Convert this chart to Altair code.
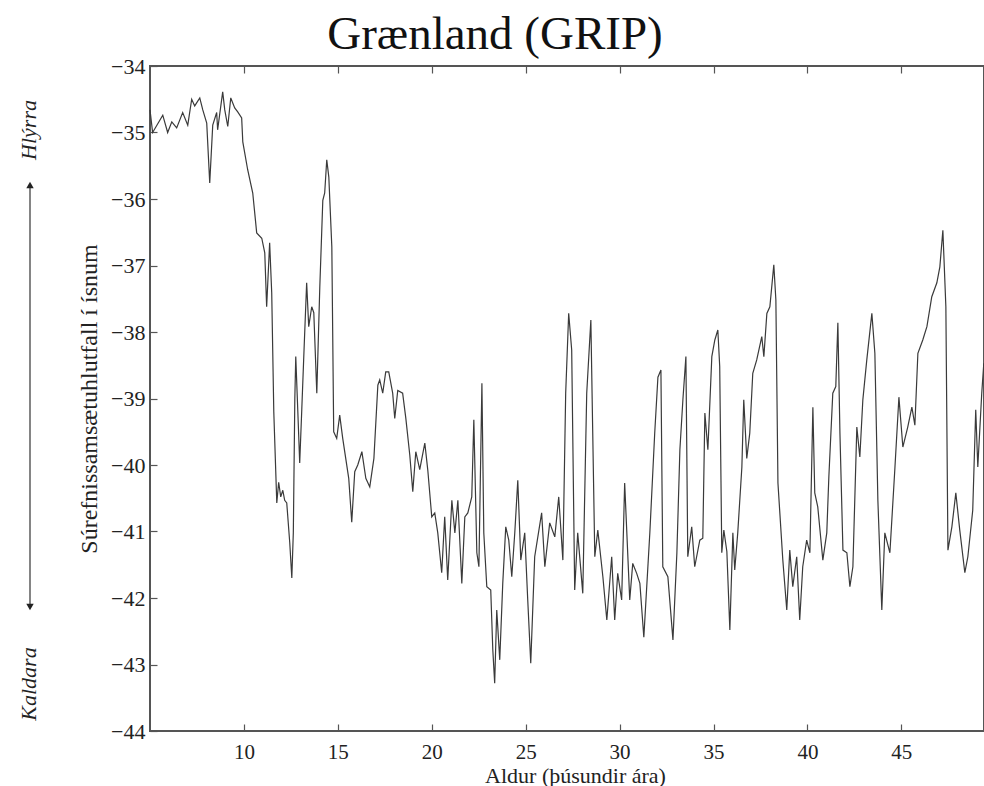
import altair as alt
import pandas as pd

# GRIP ice core oxygen-isotope record, age in thousands of years
age = [
    5.0, 5.14, 5.68, 5.94, 6.16, 6.42, 6.74, 7.01, 7.22, 7.38, 7.65, 7.81, 8.02, 8.18, 8.34,
    8.55, 8.60, 8.87, 8.98, 9.14, 9.30, 9.51, 9.67, 9.88, 9.94, 10.20, 10.47, 10.68, 10.95,
    11.11, 11.21, 11.37, 11.48, 11.59, 11.75, 11.85, 11.96, 12.07, 12.17, 12.28, 12.44, 12.55,
    12.63, 12.71, 12.76, 12.87, 12.97, 13.08, 13.18, 13.34, 13.45, 13.61, 13.72, 13.88, 14.04,
    14.20, 14.30, 14.41, 14.52, 14.68, 14.78, 14.94, 15.10, 15.26, 15.42, 15.58, 15.74, 15.90,
    16.06, 16.28, 16.49, 16.70, 16.92, 17.13, 17.23, 17.39, 17.55, 17.71, 17.92, 18.03, 18.19,
    18.45, 18.62, 18.83, 18.99, 19.15, 19.36, 19.63, 19.79, 20.00, 20.16, 20.32, 20.53, 20.69,
    20.85, 21.07, 21.23, 21.39, 21.60, 21.76, 21.92, 22.13, 22.24, 22.40, 22.51, 22.67, 22.77,
    22.93, 23.14, 23.25, 23.35, 23.46, 23.62, 23.78, 23.94, 24.10, 24.26, 24.42, 24.58, 24.74,
    24.95, 25.11, 25.27, 25.48, 25.85, 26.02, 26.28, 26.55, 26.76, 26.98, 27.13, 27.29, 27.45,
    27.61, 27.77, 28.04, 28.25, 28.47, 28.57, 28.68, 28.84, 29.11, 29.32, 29.58, 29.74, 29.90,
    30.11, 30.27, 30.54, 30.70, 30.91, 31.08, 31.29, 31.61, 31.87, 32.04, 32.20, 32.30, 32.57,
    32.84, 33.05, 33.21, 33.37, 33.53, 33.63, 33.84, 34.00, 34.27, 34.43, 34.54, 34.70, 34.91,
    35.07, 35.23, 35.33, 35.44, 35.55, 35.71, 35.87, 36.03, 36.13, 36.29, 36.51, 36.61, 36.77,
    36.93, 37.09, 37.30, 37.57, 37.68, 37.84, 38.00, 38.21, 38.32, 38.43, 38.69, 38.90, 39.06,
    39.22, 39.43, 39.59, 39.75, 39.96, 40.13, 40.29, 40.39, 40.55, 40.82, 41.03, 41.14, 41.35,
    41.51, 41.62, 41.73, 41.89, 42.10, 42.26, 42.42, 42.63, 42.79, 42.95, 43.16, 43.43, 43.59,
    43.75, 43.96, 44.12, 44.39, 44.66, 44.87, 45.08, 45.34, 45.56, 45.72, 45.88, 46.14, 46.36,
    46.62, 46.89, 47.05, 47.21, 47.37, 47.48, 47.69, 47.90, 48.11, 48.38, 48.54, 48.80, 48.96,
    49.07, 49.28, 49.39,
]

# delta-18O (per mil)
d18o = [
    -34.66, -35.00, -34.74, -35.00, -34.84, -34.93, -34.70, -34.89, -34.50, -34.60, -34.48, -34.66, -34.86, -35.76, -34.89,
    -34.70, -34.96, -34.39, -34.66, -34.91, -34.48, -34.63, -34.69, -34.78, -35.14, -35.56, -35.91, -36.51, -36.59,
    -36.81, -37.62, -36.66, -37.41, -39.20, -40.57, -40.26, -40.48, -40.38, -40.53, -40.57, -41.17, -41.70,
    -41.02, -39.00, -38.37, -39.20, -39.97, -39.17, -38.42, -37.26, -37.92, -37.62, -37.71, -38.92, -37.32,
    -36.02, -35.91, -35.41, -35.67, -36.72, -39.50, -39.60, -39.25, -39.60, -39.90, -40.20, -40.86, -40.10,
    -40.00, -39.80, -40.20, -40.33, -39.90, -38.80, -38.72, -38.92, -38.60, -38.60, -38.92, -39.30, -38.88,
    -38.92, -39.30, -39.85, -40.40, -39.80, -40.07, -39.67, -40.08, -40.78, -40.72, -41.02, -41.62, -40.78,
    -41.73, -40.53, -41.02, -40.53, -41.78, -40.78, -40.72, -40.48, -39.32, -41.32, -41.53, -38.77, -41.02,
    -41.83, -41.88, -42.78, -43.28, -42.18, -42.93, -41.78, -40.93, -41.13, -41.68, -41.02, -40.23, -41.43,
    -41.02, -42.03, -42.98, -41.38, -40.72, -41.53, -40.87, -41.08, -40.48, -41.43, -38.92, -37.72, -38.27,
    -41.88, -41.02, -41.93, -38.92, -37.82, -39.52, -41.38, -40.98, -41.68, -42.33, -41.38, -42.33, -41.63,
    -42.03, -40.27, -42.03, -41.48, -41.63, -41.78, -42.59, -41.02, -39.52, -38.68, -38.57, -41.53, -41.68,
    -42.63, -41.32, -39.77, -39.02, -38.37, -41.38, -40.93, -41.53, -41.13, -41.10, -39.22, -39.77, -38.37,
    -38.12, -37.97, -38.52, -41.32, -40.98, -41.30, -42.48, -41.02, -41.58, -41.02, -40.03, -39.02, -39.90,
    -39.52, -38.62, -38.42, -38.07, -38.37, -37.72, -37.62, -36.99, -37.52, -40.27, -41.43, -42.18, -41.28,
    -41.83, -41.38, -42.33, -41.53, -41.13, -41.32, -39.13, -40.42, -40.63, -41.43, -41.02, -40.18, -38.92,
    -38.82, -37.86, -39.52, -41.28, -41.32, -41.83, -41.53, -39.43, -39.88, -39.02, -38.42, -37.72, -38.32,
    -40.53, -42.18, -41.02, -41.32, -40.03, -38.98, -39.73, -39.43, -39.13, -39.40, -38.32, -38.12, -37.92,
    -37.47, -37.26, -37.02, -36.47, -37.62, -41.28, -40.93, -40.42, -40.98, -41.62, -41.38, -40.68, -39.17,
    -40.03, -38.92, -38.47,
]

x_ticks = [10, 15, 20, 25, 30, 35, 40, 45]
y_ticks = [-44, -43, -42, -41, -40, -39, -38, -37, -36, -35, -34]

df = pd.DataFrame({"age": age, "d18o": d18o})

FONT = "Liberation Serif"
W, H = 834, 665

x_scale = alt.Scale(domain=[5, 49.4], nice=False, zero=False)
y_scale = alt.Scale(domain=[-44, -34], nice=False, zero=False)

base = alt.Chart(df)

# the record itself, with labelled axes (ticks drawn by the layers below)
series = base.mark_line(color="#3a3a3a", strokeWidth=1.2).encode(
    x=alt.X(
        "age:Q",
        scale=x_scale,
        axis=alt.Axis(
            orient="bottom", values=x_ticks, tickSize=0, domain=False, grid=False,
            labelFont=FONT, labelFontSize=21, labelColor="#222", labelPadding=10,
            title="Aldur (þúsundir ára)", titleFont=FONT, titleFontSize=22,
            titleFontWeight="normal", titleColor="#222", titlePadding=3, titleX=425,
        ),
    ),
    y=alt.Y(
        "d18o:Q",
        scale=y_scale,
        axis=alt.Axis(
            orient="left", values=y_ticks, tickSize=0, domain=False, grid=False,
            labelFont=FONT, labelFontSize=22, labelColor="#222", labelPadding=5,
            title="Súrefnissamsætuhlutfall í ísnum", titleFont=FONT, titleFontSize=24,
            titleFontWeight="normal", titleColor="#222", titleX=-61, titleBaseline="middle",
        ),
    ),
)

tick_axis = dict(tickSize=7, tickColor="#555", tickWidth=1.2, labels=False,
                 domain=False, grid=False, title=None)

# inward ticks on the bottom and left edges
inner_ticks = base.mark_line(opacity=0).encode(
    x=alt.X("age:Q", scale=x_scale,
            axis=alt.Axis(orient="bottom", offset=-7, values=x_ticks, **tick_axis)),
    y=alt.Y("d18o:Q", scale=y_scale,
            axis=alt.Axis(orient="left", offset=-7, values=y_ticks, **tick_axis)),
)

# inward ticks on the top edge
top_ticks = base.mark_line(opacity=0).encode(
    x=alt.X("age:Q", scale=x_scale,
            axis=alt.Axis(orient="top", offset=-7, values=x_ticks, **tick_axis)),
    y=alt.Y("d18o:Q", scale=y_scale, axis=None),
)

# warmer / colder guide at the far left
warm = alt.Chart(pd.DataFrame({"t": ["Hlýrra"]})).mark_text(
    angle=270, font=FONT, fontStyle="italic", fontSize=22, color="#222",
    align="center", baseline="middle",
).encode(text="t:N", x=alt.value(-121), y=alt.value(64))

cold = alt.Chart(pd.DataFrame({"t": ["Kaldara"]})).mark_text(
    angle=270, font=FONT, fontStyle="italic", fontSize=22, color="#222",
    align="center", baseline="middle",
).encode(text="t:N", x=alt.value(-121), y=alt.value(618))

shaft = alt.Chart(pd.DataFrame({"t": [0]})).mark_rule(color="#333", strokeWidth=1.2).encode(
    x=alt.value(-120), y=alt.value(120), y2=alt.value(542)
)
head_up = alt.Chart(pd.DataFrame({"t": [0]})).mark_point(
    shape="triangle-up", filled=True, color="#222", size=55, opacity=1
).encode(x=alt.value(-120), y=alt.value(119))
head_down = alt.Chart(pd.DataFrame({"t": [0]})).mark_point(
    shape="triangle-down", filled=True, color="#222", size=55, opacity=1
).encode(x=alt.value(-120), y=alt.value(541))

chart = (
    alt.layer(series, inner_ticks, top_ticks, shaft, head_up, head_down, warm, cold)
    .resolve_axis(x="independent", y="independent")
    .properties(
        width=W,
        height=H,
        padding={"left": 150, "top": 66, "right": 0, "bottom": 55},
        autosize=alt.AutoSizeParams(type="none"),
        background="white",
        title=alt.TitleParams(
            "Grænland (GRIP)", font=FONT, fontSize=47, fontWeight="normal",
            color="#111", anchor="middle", baseline="alphabetic", offset=16,
            dx=-72, dy=57,
        ),
    )
    .configure_view(stroke="#555", strokeWidth=2)
)

chart.save("out.html", embed_options={"renderer": "svg", "actions": False})
